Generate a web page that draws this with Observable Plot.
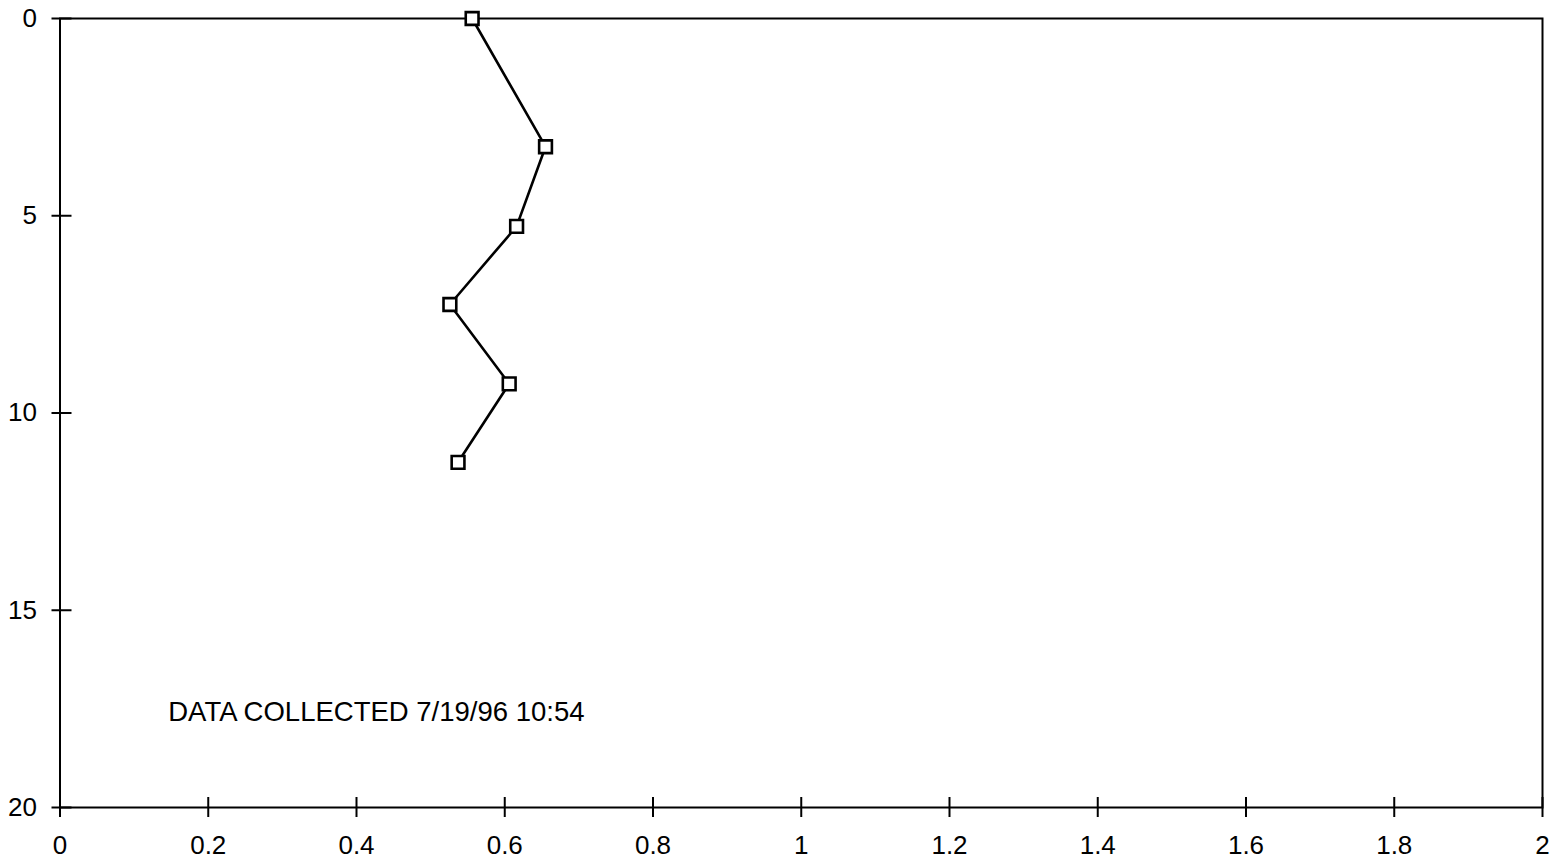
<!DOCTYPE html>
<html>
<head>
<meta charset="utf-8">
<script src="https://cdn.jsdelivr.net/npm/d3@7"></script>
<script src="https://cdn.jsdelivr.net/npm/@observablehq/plot@0.6"></script>
<style>
  html, body { margin: 0; padding: 0; background: #fff; }
  #chart svg { display: block; }
</style>
</head>
<body>
<div id="chart"></div>
<script>
// Data
const depths = [0, 3.25, 5.27, 7.25, 9.26, 11.25];
const values = [0.556, 0.655, 0.616, 0.526, 0.606, 0.537];
const xTicks = [0, 0.2, 0.4, 0.6, 0.8, 1, 1.2, 1.4, 1.6, 1.8, 2];
const xTickLabels = ["0", "0.2", "0.4", "0.6", "0.8", "1", "1.2", "1.4", "1.6", "1.8", "2"];
const yTicks = [0, 5, 10, 15, 20];
const caption = "DATA COLLECTED 7/19/96 10:54";
const captionPos = {x: 0.146, y: 17.58};

const data = depths.map((d, i) => ({depth: d, value: values[i]}));

const font = "'Liberation Sans', Arial, Helvetica, sans-serif";

const chart = Plot.plot({
  width: 1558,
  height: 861,
  marginLeft: 59.5,
  marginRight: 16,
  marginTop: 18,
  marginBottom: 54,
  style: {fontFamily: font, background: "#fff", color: "#000"},
  x: {domain: [0, 2]},
  y: {domain: [0, 20], reverse: true},
  marks: [
    Plot.frame({stroke: "#000", strokeWidth: 2}),
    Plot.ruleY(yTicks, {y: d => d, x1: 0, x2: 0, insetLeft: -8, insetRight: -12, stroke: "#000", strokeWidth: 2}),
    Plot.ruleX(xTicks, {x: d => d, y1: 20, y2: 20, insetTop: -10, insetBottom: -10, stroke: "#000", strokeWidth: 2}),
    Plot.axisY({anchor: "left", ticks: yTicks, tickSize: 0, tickPadding: 23, fontSize: 26, label: null, tickFormat: d => String(d)}),
    Plot.axisX({anchor: "bottom", ticks: xTicks, tickSize: 0, tickPadding: 28, fontSize: 26, label: null, tickFormat: (d) => xTickLabels[xTicks.indexOf(d)]}),
    Plot.line(data, {x: "value", y: "depth", stroke: "#000", strokeWidth: 2.6}),
    Plot.dot(data, {x: "value", y: "depth", symbol: "square", r: 7.2, fill: "#fff", stroke: "#000", strokeWidth: 2.6}),
    Plot.text([caption], {x: () => captionPos.x, y: () => captionPos.y, text: d => d, textAnchor: "start", fontSize: 27.5, fill: "#000"})
  ]
});

document.getElementById("chart").appendChild(chart);
</script>
</body>
</html>
